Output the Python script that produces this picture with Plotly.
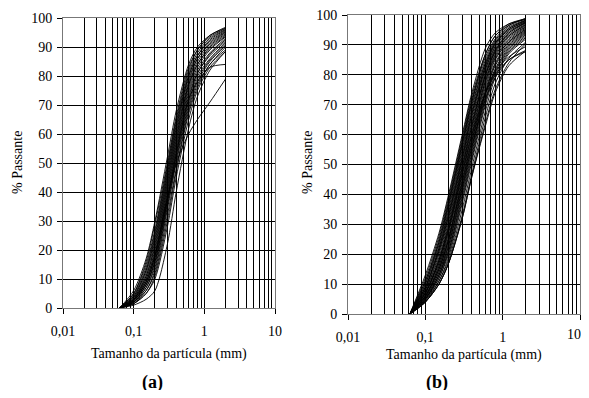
import plotly.graph_objects as go

# Sieve sizes (mm) at which each curve is sampled
sizes = [0.063, 0.1, 0.15, 0.2, 0.3, 0.4, 0.6, 0.8, 1.2, 2.0]

# Panel (a): % passing curves
curves_a = [
    [0, 6, 17, 30, 52, 68, 84, 90, 94, 96.5],
    [0, 5, 16, 29, 50, 66, 83, 89, 94, 96.8],
    [0, 5, 15, 27, 49, 65, 82, 89, 93.5, 96.3],
    [0, 4.5, 14, 26, 48, 64, 81, 88, 93, 96],
    [0, 4, 13, 25, 47, 63, 80, 87, 92.5, 95.8],
    [0, 4, 13, 24, 46, 62, 80, 87, 92, 95.5],
    [0, 3.5, 12, 23, 45, 61, 79, 86, 91.5, 95.2],
    [0, 3.5, 11, 22, 44, 60, 78, 86, 91, 95],
    [0, 3, 11, 21, 43, 59, 77, 85, 90.5, 94.6],
    [0, 3, 10, 20, 42, 58, 77, 84, 90, 94.2],
    [0, 3, 10, 19, 41, 57, 76, 84, 89.5, 93.8],
    [0, 2.5, 9, 18, 40, 56, 75, 83, 89, 93.5],
    [0, 2.5, 9, 18, 39, 55, 74, 82, 88, 93],
    [0, 2.5, 8, 17, 38, 54, 73, 81, 87.5, 92.5],
    [0, 2, 8, 16, 37, 53, 72, 81, 87, 92],
    [0, 2, 7, 15, 36, 52, 71, 80, 86, 91.5],
    [0, 2, 7, 14, 35, 51, 70, 79, 85.5, 91],
    [0, 2, 6, 13, 34, 50, 69, 78, 85, 90.5],
    [0, 1.5, 6, 12, 32, 48, 68, 77, 84, 90],
    [0, 1.5, 5, 11, 30, 47, 67, 76, 84, 89],
    [0, 1.5, 5, 10, 28, 45, 65, 75, 83, 88.5],
    [0, 1, 3, 6, 22, 40, 62, 73, 82, 88.5],
    [0, 2.5, 8, 16, 37, 53, 72, 78, 83, 84],
    [0, 3, 9, 18, 38, 50, 60, 65, 71, 79],
]

# Panel (b): % passing curves
curves_b = [
    [0, 13, 27, 40, 60, 74, 89, 94, 97, 98.5],
    [0, 12, 26, 39, 59, 73, 87, 93, 96.5, 98.9],
    [0, 11, 25, 38, 58, 72, 86, 92, 96.5, 98.7],
    [0, 10, 24, 37, 57, 71, 85, 91.5, 96, 98.3],
    [0, 10, 23, 36, 56, 70, 84, 91, 95.5, 98.1],
    [0, 9, 22, 35, 55, 69, 84, 90.5, 95, 97.9],
    [0, 9, 22, 34, 54, 68, 83, 90, 95, 97.7],
    [0, 8.5, 21, 33, 53, 67, 82, 89.5, 94.5, 97.5],
    [0, 8, 20, 32, 52, 66, 82, 89, 94, 97.3],
    [0, 8, 19, 31, 51, 65, 81, 88.5, 93.5, 97],
    [0, 7.5, 18, 30, 50, 64, 80, 88, 93, 96.8],
    [0, 7, 18, 29, 49, 63, 80, 87.5, 93, 96.5],
    [0, 7, 17, 28, 48, 62, 79, 87, 92.5, 96.2],
    [0, 6.5, 16, 27, 47, 61, 78, 86.5, 92, 96],
    [0, 6, 16, 26, 46, 60, 78, 86, 91.5, 95.7],
    [0, 6, 15, 25, 45, 59, 77, 85.5, 91, 95.4],
    [0, 6, 15, 25, 44, 58, 76, 85, 91, 95.1],
    [0, 5.5, 14, 24, 43, 57, 75, 84, 90.5, 94.8],
    [0, 5.5, 14, 23, 42, 56, 74, 83.5, 90, 94.5],
    [0, 5, 13, 22, 41, 55, 74, 83, 89.5, 94.2],
    [0, 5, 13, 21, 40, 54, 73, 82, 89, 93.9],
    [0, 5, 12, 21, 39, 53, 72, 81.5, 88.5, 93.5],
    [0, 4.5, 12, 20, 38, 52, 71, 81, 88, 93],
    [0, 4.5, 11, 19, 37, 51, 70, 80, 87.5, 92.5],
    [0, 4, 11, 18, 35, 49, 68, 79, 87, 92],
    [0, 4, 10, 17, 33, 47, 66, 77, 85.5, 91],
    [0, 4, 10, 17, 32, 46, 64, 75, 84, 90.5],
    [0, 6, 15, 25, 44, 58, 74, 81, 86, 89.5],
    [0, 5, 13, 23, 42, 56, 72, 79, 85, 88.2],
    [0, 7, 17, 28, 47, 60, 74, 80, 85, 87.8],
    [0, 4, 10, 17, 32, 46, 63, 74, 83, 88],
    [0, 11, 24, 37, 57, 71, 87, 93, 97, 98.8],
    [0, 9, 21, 33, 52, 67, 83, 90.5, 95.5, 98.2],
    [0, 7, 18, 29, 49, 63, 80, 88, 94, 97.5],
]

x_major = [0.01, 0.1, 1, 10]
x_major_text = ["0,01", "0,1", "1", "10"]
x_minor = [m * d for d in (0.01, 0.1, 1) for m in range(2, 10)]
y_ticks = list(range(0, 101, 10))

x_title = "Tamanho da partícula (mm)"
y_title = "% Passante"
panel_labels = ["(a)", "(b)"]

# The page body keeps its default 8 px margin: the figure is sized so the page fits
# the 589x398 window, and window-pixel positions are shifted by that margin.
OFF = 8
W, H = 589 - 2 * OFF, 398 - 2 * OFF
FONT = "Liberation Serif"

def xp(px):
    return (px - OFF) / W

def yp(py):
    return 1 - (py - OFF) / H

fig = go.Figure()
for c in curves_a:
    fig.add_trace(go.Scatter(x=sizes, y=c, mode="lines", xaxis="x", yaxis="y",
                             line=dict(color="black", width=0.9, shape="spline", smoothing=0.8),
                             showlegend=False, hoverinfo="skip"))
for c in curves_b:
    fig.add_trace(go.Scatter(x=sizes, y=c, mode="lines", xaxis="x2", yaxis="y2",
                             line=dict(color="black", width=0.9, shape="spline", smoothing=0.8),
                             showlegend=False, hoverinfo="skip"))
# empty trace so the overlay axis carrying panel (b)'s last label is drawn
fig.add_trace(go.Scatter(x=[], y=[], xaxis="x3", yaxis="y2", showlegend=False, hoverinfo="skip"))

# window-pixel geometry of the two panels
pa = dict(l=63, r=275, t=18, b=308)
pb = dict(l=348, r=580, t=15, b=314)

def xax(p, texts):
    return dict(type="log", range=[-2, 1], domain=[xp(p["l"]), xp(p["r"])], automargin=False,
                tickvals=x_major, ticktext=texts, ticks="outside", ticklen=5,
                tickcolor="black", showgrid=True, gridcolor="black", gridwidth=1,
                minor=dict(tickvals=x_minor, showgrid=True, gridcolor="black", gridwidth=1, ticks=""),
                showline=True, linecolor="#777", mirror=True, zeroline=False,
                ticklabeloverflow="allow",
                tickfont=dict(family=FONT, size=14, color="black"), ticklabelstandoff=5)

def yax(p, anchor):
    return dict(range=[0, 100], domain=[yp(p["b"]), yp(p["t"])], anchor=anchor,
                automargin=False,
                tickvals=y_ticks, ticks="outside", ticklen=5, tickcolor="black",
                showgrid=True, gridcolor="black", gridwidth=1,
                showline=True, linecolor="#777", mirror=True, zeroline=False,
                ticklabeloverflow="allow",
                tickfont=dict(family=FONT, size=14, color="black"), ticklabelstandoff=2)

xa = xax(pa, x_major_text); xa["anchor"] = "y"
xb = xax(pb, x_major_text[:-1] + [""]); xb["anchor"] = "y2"
# the "10" label of panel (b) sits at the window's right edge; draw it left-aligned to its tick
xc = dict(type="log", range=[-2, 1], overlaying="x2", anchor="y2", side="bottom",
          automargin=False, tickvals=x_major[-1:], ticktext=x_major_text[-1:], ticks="",
          ticklabelposition="outside left", ticklabelshift=1, ticklabelstandoff=10,
          showgrid=False, showline=False, zeroline=False, ticklabeloverflow="allow",
          tickfont=dict(family=FONT, size=14, color="black"))
fig.update_layout(
    width=W, height=H, margin=dict(l=0, r=0, t=0, b=0, autoexpand=False),
    plot_bgcolor="white", paper_bgcolor="white",
    xaxis=xa, yaxis=yax(pa, "x"), xaxis2=xb, yaxis2=yax(pb, "x2"), xaxis3=xc,
)

def label(text, x, y, size=14, angle=0):
    return dict(text=text, x=xp(x), y=yp(y), xref="paper", yref="paper",
                xanchor="center", yanchor="middle", textangle=angle,
                showarrow=False, font=dict(family=FONT, size=size, color="black"))

ann = [
    label(x_title, 169, 354),
    label(x_title, 464, 355),
    label(y_title, 17, 163, angle=-90),
    label(y_title, 307, 163, angle=-90),
    label("<b>" + panel_labels[0] + "</b>", 152, 382, size=18),
    label("<b>" + panel_labels[1] + "</b>", 437, 382, size=18),
]
fig.update_layout(annotations=ann)

fig.write_html("out.html")
